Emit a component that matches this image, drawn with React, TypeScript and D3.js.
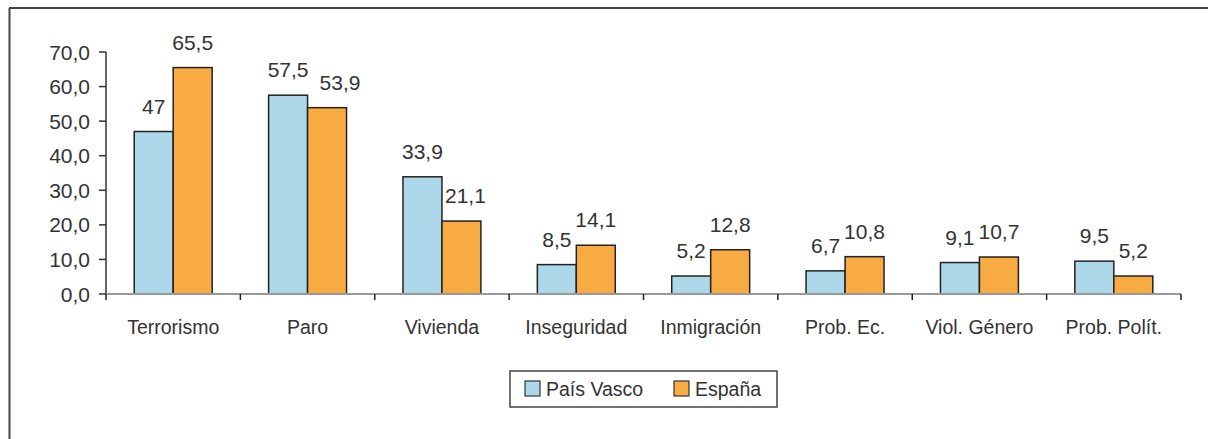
import React from 'react';
import * as d3 from 'd3';

const categories = ['Terrorismo', 'Paro', 'Vivienda', 'Inseguridad', 'Inmigración', 'Prob. Ec.', 'Viol. Género', 'Prob. Polít.'];
const seriesNames = ['País Vasco', 'España'];
const paisVasco = [47, 57.5, 33.9, 8.5, 5.2, 6.7, 9.1, 9.5];
const espana = [65.5, 53.9, 21.1, 14.1, 12.8, 10.8, 10.7, 5.2];
const yTicks = [0, 10, 20, 30, 40, 50, 60, 70];

const colors = ['#add8ea', '#f8ab43'];
const font = '"Liberation Sans", Arial, sans-serif';
const textColor = '#333';

// labels that were pushed sideways in the original to avoid overlapping
const labelNudge: Record<string, number> = { 'Paro|España': 13, 'Vivienda|España': 4 };

const fmtLabel = (v: number) => String(v).replace('.', ',');
const fmtTick = (v: number) => v.toFixed(1).replace('.', ',');

export default function App() {
  const width = 1208;
  const height = 439;

  const x0 = d3.scaleBand<string>()
    .domain(categories)
    .range([106, 1181])
    .paddingInner(0.42)
    .paddingOuter(0.21);

  const x1 = d3.scaleBand<string>()
    .domain(seriesNames)
    .range([0, x0.bandwidth()]);

  const y = d3.scaleLinear().domain([0, 70]).range([294, 52]);

  const seriesValues = [paisVasco, espana];

  // category boundary ticks
  const step = x0.step();
  const boundaries = d3.range(categories.length + 1).map(i => 106 + i * step);

  return (
    <svg
      width={width}
      height={height}
      style={{ position: 'absolute', left: 0, top: 0, background: '#fff' }}
      fontFamily={font}
    >
      {/* outer frame */}
      <line x1={9} x2={width} y1={8} y2={8} stroke="#444" strokeWidth={2} />
      <line x1={9.5} x2={9.5} y1={8} y2={height} stroke="#444" strokeWidth={2} />

      {/* y axis */}
      <line x1={106} x2={106} y1={y(70)} y2={y(0)} stroke="#333" strokeWidth={1.5} />
      {yTicks.map(t => (
        <g key={t}>
          <line x1={99} x2={106} y1={y(t)} y2={y(t)} stroke="#333" strokeWidth={1.5} />
          <text x={90} y={y(t)} dy="0.36em" textAnchor="end" fontSize={21} fill={textColor}>
            {fmtTick(t)}
          </text>
        </g>
      ))}

      {/* bars */}
      {categories.map((c, i) => (
        <g key={c} transform={`translate(${x0(c)},0)`}>
          {seriesNames.map((s, j) => {
            const v = seriesValues[j][i];
            const bx = x1(s) as number;
            return (
              <g key={s}>
                <rect
                  x={bx}
                  y={y(v)}
                  width={x1.bandwidth()}
                  height={y(0) - y(v)}
                  fill={colors[j]}
                  stroke="#222"
                  strokeWidth={1.5}
                />
                <text
                  x={bx + x1.bandwidth() / 2 + (labelNudge[`${c}|${s}`] || 0)}
                  y={y(v) - 18}
                  textAnchor="middle"
                  fontSize={21}
                  fill={textColor}
                >
                  {fmtLabel(v)}
                </text>
              </g>
            );
          })}
        </g>
      ))}

      {/* x axis */}
      <line x1={106} x2={1181} y1={y(0)} y2={y(0)} stroke="#999" strokeWidth={2} />
      {boundaries.map((bx, i) => (
        <line key={i} x1={bx} x2={bx} y1={y(0)} y2={y(0) + 6} stroke="#222" strokeWidth={1.5} />
      ))}
      {categories.map(c => (
        <text
          key={c}
          x={(x0(c) as number) + x0.bandwidth() / 2}
          y={334}
          textAnchor="middle"
          fontSize={19.5}
          fill={textColor}
        >
          {c}
        </text>
      ))}

      {/* legend */}
      <rect x={510} y={371} width={267} height={36} fill="#fff" stroke="#444" strokeWidth={1.5} />
      {seriesNames.map((s, j) => {
        const lx = j === 0 ? 525 : 674;
        return (
          <g key={s}>
            <rect x={lx} y={381} width={15} height={15} fill={colors[j]} stroke="#333" strokeWidth={1.2} />
            <text x={lx + 21} y={396} fontSize={19.5} fill={textColor}>{s}</text>
          </g>
        );
      })}
    </svg>
  );
}
